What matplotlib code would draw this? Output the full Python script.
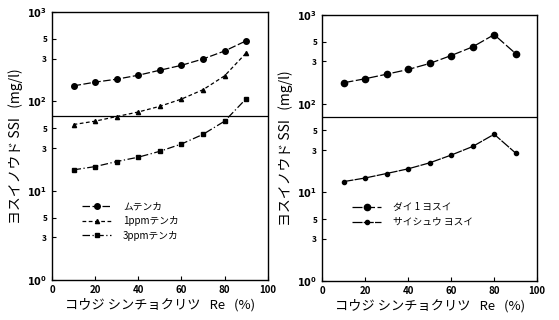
import numpy as np
import matplotlib.pyplot as plt
from matplotlib.ticker import FixedLocator, FixedFormatter

plt.rcParams['font.family'] = ['Noto Sans CJK JP', 'DejaVu Sans']

# Re (%) at each sample
re_pct = [10, 20, 30, 40, 50, 60, 70, 80, 90]

# left panel: SSI vs Re for the three dosing conditions
ssi_none = [149, 164, 177, 196, 223, 253, 298, 366, 476]
ssi_1ppm = [55, 60, 67.6, 76, 88, 106, 135, 193, 348]
ssi_3ppm = [17.1, 18.6, 21.2, 23.7, 27.6, 33.3, 42.7, 60, 107]
left_labels = ["ムテンカ", "1ppmテンカ", "3ppmテンカ"]

# right panel: first and final effluent
ssi_first = [172, 191, 215, 243, 284, 349, 437, 601, 367]
ssi_final = [13.2, 14.5, 16.3, 18.4, 21.5, 26.3, 32.9, 45.2, 27.7]
right_labels = ["ダイ 1 ヨスイ", "サイシュウ ヨスイ"]

# the faint horizontal line across each panel
crease_left = 69
crease_right = 70

xticks = [0, 20, 40, 60, 80, 100]
major_y = [1, 10, 100, 1000]
major_lbl = [r"$\mathbf{10^0}$", r"$\mathbf{10^1}$", r"$\mathbf{10^2}$", r"$\mathbf{10^3}$"]
minor_y = [3, 5, 30, 50, 300, 500]
minor_lbl = ["3", "5", "3", "5", "3", "5"]

xlabel = "コウジ シンチョクリツ   Re   (%)"
ylabel = "ヨスイノウド SSI   (mg/l)"


def setup(ax, crease):
    ax.set_yscale('log')
    ax.set_xlim(0, 100)
    ax.set_ylim(1, 1000)
    ax.set_xticks(xticks)
    ax.set_xticklabels([str(t) for t in xticks], fontsize=7, fontweight='bold')
    ax.yaxis.set_major_locator(FixedLocator(major_y))
    ax.yaxis.set_major_formatter(FixedFormatter(major_lbl))
    ax.yaxis.set_minor_locator(FixedLocator(minor_y))
    ax.yaxis.set_minor_formatter(FixedFormatter(minor_lbl))
    ax.tick_params(axis='both', which='both', direction='in', labelsize=7, length=3, width=0.8)
    for t in ax.get_yticklabels(minor=True):
        t.set_fontweight('bold')
        t.set_fontsize(6)
    ax.set_xlabel(xlabel, fontsize=9.5, labelpad=2)
    ax.set_ylabel(ylabel, fontsize=10, labelpad=3)
    ax.axhline(crease, color='black', lw=0.9)
    for s in ax.spines.values():
        s.set_linewidth(1.0)


fig = plt.figure(figsize=(5.59, 3.2), dpi=100)
ax1 = fig.add_axes([0.093, 0.125, 0.386, 0.8375])
ax2 = fig.add_axes([0.576, 0.122, 0.385, 0.831])

ax1.plot(re_pct, ssi_none, color='black', lw=0.9, ls=(0, (6, 2)), marker='o', ms=4, label=left_labels[0])
ax1.plot(re_pct, ssi_1ppm, color='black', lw=0.9, ls=(0, (3, 2)), marker='^', ms=3, label=left_labels[1])
ax1.plot(re_pct, ssi_3ppm, color='black', lw=0.9, ls=(0, (6, 2, 1, 2)), marker='s', ms=3, label=left_labels[2])
setup(ax1, crease_left)
ax1.legend(loc='center left', bbox_to_anchor=(0.1, 0.22), frameon=False, fontsize=7,
           handlelength=3.0, handletextpad=1.2, labelspacing=0.5)

ax2.plot(re_pct, ssi_first, color='black', lw=0.9, ls=(0, (8, 2)), marker='o', ms=4.5, label=right_labels[0])
ax2.plot(re_pct, ssi_final, color='black', lw=0.9, ls=(0, (8, 1)), marker='o', ms=3, label=right_labels[1])
setup(ax2, crease_right)
ax2.legend(loc='center left', bbox_to_anchor=(0.1, 0.25), frameon=False, fontsize=7,
           handlelength=3.0, handletextpad=1.2, labelspacing=0.5)

fig.savefig('out.png', dpi=100)
